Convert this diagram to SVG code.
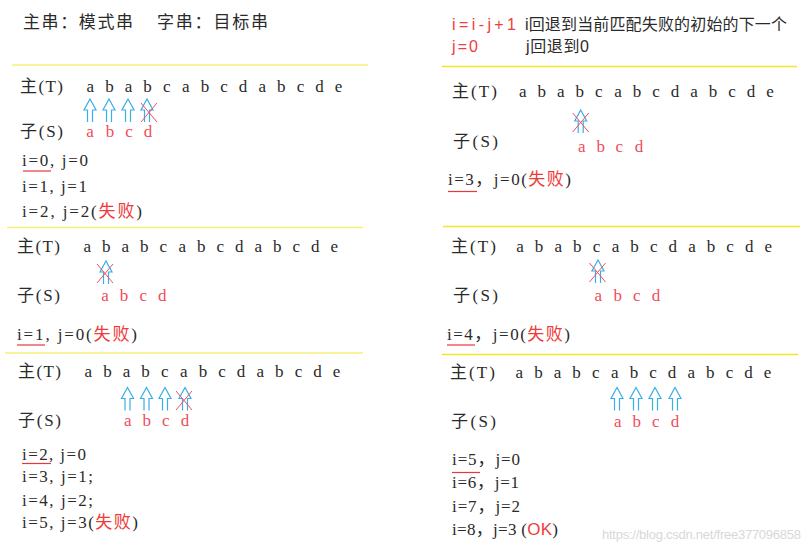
<svg xmlns="http://www.w3.org/2000/svg" width="811" height="550" viewBox="0 0 811 550">
<style>
.t{font-family:"Liberation Serif","Noto Sans CJK SC",serif;font-size:17px;fill:#2a2a2a}
.s{font-family:"Liberation Sans","Noto Sans CJK SC",sans-serif;font-size:16px;fill:#2a2a2a}
.r{fill:#ef3b3b}
.pk{fill:#f24b5a}
.lt{font-family:"Liberation Serif",serif;font-size:17px;fill:#2a2a2a;text-anchor:middle}
.ls{font-family:"Liberation Serif",serif;font-size:17px;fill:#f24b5a;text-anchor:middle}
.yl{stroke:#f7ef7a;stroke-width:1.5}
.yr{stroke:#f2e62a;stroke-width:1.5}
.ul{stroke:#e8383d;stroke-width:1.2}
.x{stroke:#f0505c;stroke-width:1}
.wm{font-family:"Liberation Sans",sans-serif;font-size:13px;fill:#d8d8d8}
</style>
<defs>
<path id="ar" d="M-2.5,23 V11 H-6 L0,0 L6,11 H2.5 V23" fill="none" stroke="#3aaee6" stroke-width="1.2"/>
<g id="xx"><line class="x" x1="-8" y1="4" x2="8" y2="23"/><line class="x" x1="8" y1="4" x2="-8" y2="23"/></g>
</defs>

<g id="header">
<text class="t" x="23" y="28" font-size="18" textLength="110">主串：模式串</text>
<text class="t" x="157" y="28" font-size="18" textLength="111">字串：目标串</text>
</g>

<g id="legend">
<text class="s r" x="452" y="30" textLength="64">i=i-j+1</text>
<text class="s" x="525" y="30" textLength="262">i回退到当前匹配失败的初始的下一个</text>
<text class="s r" x="452" y="52" textLength="26">j=0</text>
<text class="s" x="526" y="52" textLength="63">j回退到0</text>
</g>

<g id="dividers">
<line class="yl" x1="12" y1="65" x2="368" y2="65"/>
<line class="yl" x1="7" y1="227.5" x2="363" y2="227.5"/>
<line class="yl" x1="5" y1="353" x2="363" y2="353"/>
<line class="yr" x1="442" y1="66.5" x2="797" y2="66.5"/>
<line class="yr" x1="443" y1="226.5" x2="800" y2="226.5"/>
<line class="yr" x1="442" y1="354.5" x2="798" y2="354.5"/>
</g>

<g id="step1">
<text class="t" x="20" y="92" textLength="43">主(T)</text>
<text class="lt" y="92" x="90.3 109.4 128.5 147.6 166.7 185.8 204.9 224 243.1 262.2 281.3 300.4 319.5 338.6">ababcabcdabcde</text>
<use href="#ar" x="90" y="99"/><use href="#ar" x="109" y="99"/><use href="#ar" x="128" y="99"/><use href="#ar" x="147" y="99"/>
<use href="#xx" x="149" y="99"/>
<text class="t" x="20" y="137" textLength="43">子(S)</text>
<text class="ls" y="137" x="90 110 129 148">abcd</text>
<text class="t" x="22" y="166" textLength="66">i=0, j=0</text>
<line class="ul" x1="23" y1="171" x2="51" y2="171"/>
<text class="t" x="22" y="192" textLength="65">i=1, j=1</text>
<text class="t" x="22" y="217" textLength="120">i=2, j=2(<tspan class="r">失败</tspan>)</text>
</g>

<g id="step2">
<text class="t" x="17" y="252" textLength="43">主(T)</text>
<text class="lt" y="252" x="87.3 106.3 125.3 144.3 163.3 182.3 201.3 220.3 239.3 258.3 277.3 296.3 315.3 334.3">ababcabcdabcde</text>
<use href="#ar" x="106" y="261"/>
<use href="#xx" x="105" y="260"/>
<text class="t" x="17" y="301" textLength="43">子(S)</text>
<text class="ls" y="301" x="105 124 143.3 162.3">abcd</text>
<text class="t" x="17" y="340" textLength="120">i=1, j=0(<tspan class="r">失败</tspan>)</text>
<line class="ul" x1="17" y1="345" x2="45" y2="345"/>
</g>

<g id="step3">
<text class="t" x="18" y="377" textLength="43">主(T)</text>
<text class="lt" y="377" x="88.3 107.4 126.5 145.6 164.7 183.8 202.9 222 241.1 260.2 279.3 298.4 317.5 336.6">ababcabcdabcde</text>
<use href="#ar" x="127.5" y="387.5"/><use href="#ar" x="146.5" y="387.5"/><use href="#ar" x="165" y="387.5"/><use href="#ar" x="185" y="387.5"/>
<use href="#xx" x="184" y="387"/>
<text class="t" x="18" y="426" textLength="43">子(S)</text>
<text class="ls" y="426" x="127.7 146.7 165.7 185">abcd</text>
<text class="t" x="22" y="460" textLength="64">i=2, j=0</text>
<line class="ul" x1="22" y1="463.5" x2="51" y2="463.5"/>
<text class="t" x="22" y="482" textLength="71">i=3, j=1;</text>
<text class="t" x="22" y="506" textLength="71">i=4, j=2;</text>
<text class="t" x="22" y="528" textLength="116">i=5, j=3(<tspan class="r">失败</tspan>)</text>
</g>

<g id="step4">
<text class="t" x="452" y="97" textLength="45">主(T)</text>
<text class="lt" y="97" x="522.7 541.7 560.8 579.8 598.8 617.9 636.9 655.9 674.9 694 713 732 751.1 770.1">ababcabcdabcde</text>
<use href="#ar" x="580.7" y="110"/>
<use href="#xx" x="580.7" y="109"/>
<text class="t" x="453" y="147" textLength="45">子(S)</text>
<text class="ls" y="152" x="581.7 600.7 619.3 639">abcd</text>
<text class="t" x="448" y="185" textLength="123">i=3，j=0(<tspan class="r">失败</tspan>)</text>
<line class="ul" x1="448" y1="191.5" x2="477" y2="191.5"/>
</g>

<g id="step5">
<text class="t" x="451" y="252" textLength="45">主(T)</text>
<text class="lt" y="252" x="520 539.1 558.2 577.3 596.4 615.5 634.6 653.7 672.8 691.9 711 730.1 749.2 768.3">ababcabcdabcde</text>
<use href="#ar" x="598" y="260"/>
<use href="#xx" x="597.5" y="259"/>
<text class="t" x="453" y="301" textLength="45">子(S)</text>
<text class="ls" y="301" x="598.3 617.7 636.7 656">abcd</text>
<text class="t" x="447" y="340" textLength="123">i=4，j=0(<tspan class="r">失败</tspan>)</text>
<line class="ul" x1="447" y1="345" x2="475" y2="345"/>
</g>

<g id="step6">
<text class="t" x="450" y="378" textLength="45">主(T)</text>
<text class="lt" y="378" x="519.3 538.4 557.5 576.6 595.7 614.8 633.9 653 672.1 691.2 710.3 729.4 748.5 767.6">ababcabcdabcde</text>
<use href="#ar" x="617" y="387.5"/><use href="#ar" x="636" y="387.5"/><use href="#ar" x="655" y="387.5"/><use href="#ar" x="675" y="387.5"/>
<text class="t" x="451" y="427" textLength="45">子(S)</text>
<text class="ls" y="427" x="617.7 636.7 655.7 675">abcd</text>
<text class="t" x="452" y="465" textLength="68">i=5，j=0</text>
<line class="ul" x1="452" y1="472.5" x2="480" y2="472.5"/>
<text class="t" x="452" y="488" textLength="67">i=6，j=1</text>
<text class="t" x="452" y="512" textLength="68">i=7，j=2</text>
<text class="t" x="452" y="535" textLength="106">i=8，j=3 (<tspan class="r" font-family="Liberation Sans,sans-serif">OK</tspan>)</text>
<text class="wm" x="602" y="539" textLength="199">https://blog.csdn.net/free377096858</text>
</g>
</svg>
